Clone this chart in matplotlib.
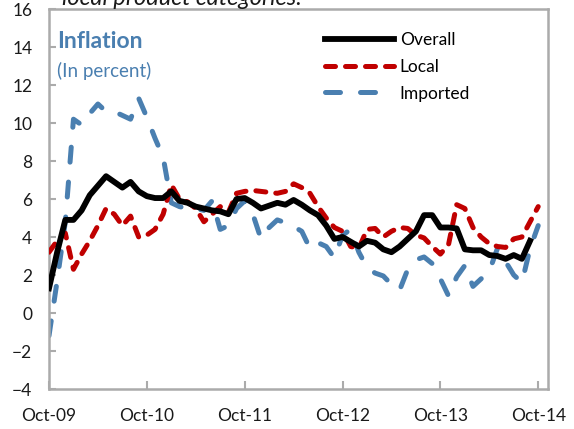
import matplotlib.pyplot as plt
import numpy as np

plt.rcParams['font.family'] = ['Lato', 'DejaVu Sans']

# monthly data, Oct-09 .. Oct-14
tick_labels = ["Oct-09", "Oct-10", "Oct-11", "Oct-12", "Oct-13", "Oct-14"]

overall = [1.3, 3.2, 4.9, 4.9, 5.4, 6.2, 6.7, 7.2, 6.9, 6.6,
           6.9, 6.4, 6.15, 6.05, 6.05, 6.4, 5.9, 5.8, 5.6, 5.5,
           5.4, 5.35, 5.2, 6.0, 6.05, 5.8, 5.5, 5.65, 5.8, 5.7,
           5.95, 5.7, 5.4, 5.15, 4.6, 3.9, 4.0, 3.75, 3.5, 3.8,
           3.7, 3.35, 3.2, 3.5, 3.9, 4.3, 5.15, 5.15, 4.5, 4.5,
           4.45, 3.35, 3.3, 3.3, 3.05, 3.0, 2.85, 3.05, 2.85, 3.8]

local = [3.2, 3.8, 4.2, 2.3, 3.1, 3.8, 4.6, 5.5, 5.2, 4.6,
         5.1, 4.0, 4.1, 4.4, 5.2, 6.75, 6.0, 5.85, 5.5, 4.8,
         5.2, 5.6, 5.3, 6.3, 6.4, 6.45, 6.4, 6.35, 6.3, 6.4,
         6.8, 6.6, 6.3, 5.6, 5.0, 4.5, 4.3, 3.5, 3.4, 4.4,
         4.45, 4.0, 4.3, 4.5, 4.45, 4.1, 3.95, 3.5, 3.1, 3.6,
         5.7, 5.5, 4.5, 4.0, 3.65, 3.5, 3.45, 3.9, 4.0, 4.8,
         5.6]

imported = [-1.2, 1.7, 4.8, 10.2, 9.9, 10.5, 11.0, 10.6, 10.6, 10.4,
            10.2, 11.3, 10.3, 9.2, 8.2, 5.8, 5.6, 5.5, 5.5, 5.4,
            5.9, 4.4, 4.6, 5.5, 5.9, 5.2, 3.9, 4.5, 4.9, 4.75,
            4.55, 4.3, 3.4, 3.7, 3.5, 2.9, 4.1, 4.4, 3.2, 2.4,
            2.1, 1.95, 1.5, 1.2, 2.3, 2.8, 2.95, 2.6, 1.8, 0.9,
            1.9, 2.5, 1.4, 1.8, 2.2, 3.4, 2.7, 2.0, 1.6, 3.4,
            4.6]

blue = "#4A7FB0"
red = "#C00000"
grey = "#ABABAB"

fig = plt.figure(figsize=(5.74, 4.29), dpi=100)
ax = fig.add_axes([49 / 574, 40 / 429, 499 / 574, 380 / 429])

ax.plot(range(len(imported)), imported, color=blue, lw=3.6, dashes=(3, 4),
        dash_capstyle="round", label="Imported", zorder=2)
ax.plot(range(len(local)), local, color=red, lw=3.6, dashes=(2, 2),
        dash_capstyle="round", label="Local", zorder=3)
ax.plot(range(len(overall)), overall, color="black", lw=4.2, label="Overall",
        zorder=4)

ax.set_xlim(0, 61.2)
ax.set_ylim(-4, 16)
ax.set_yticks(range(-4, 17, 2))
ax.set_xticks(range(0, 61, 12))
ax.set_xticklabels(tick_labels)

for s in ax.spines.values():
    s.set_color(grey)
    s.set_linewidth(1.8)
ax.tick_params(axis="y", direction="in", length=5, width=1.5, color=grey,
               labelsize=12.5, labelcolor="#1a1a1a", pad=12)
ax.tick_params(axis="x", direction="in", length=6, width=1.5, color=grey,
               labelsize=12.5, labelcolor="#1a1a1a", pad=14)

# title block inside the plot
fig.text(57 / 574, 1 - 42 / 429, "Inflation", color=blue, fontsize=16.5,
         fontweight="bold", va="center", ha="left")
fig.text(57 / 574, 1 - 71 / 429, "(In percent)", color=blue, fontsize=13.5,
         va="center", ha="left")

# caption cut off at the top of the image
fig.text(62 / 574, 1 - 5 / 429, "local product categories.", fontsize=17,
         style="italic", va="baseline", ha="left", color="#1a1a1a")

handles, labels = ax.get_legend_handles_labels()
order = [2, 1, 0]
ax.legend([handles[i] for i in order], [labels[i] for i in order],
          loc="upper left", bbox_to_anchor=(325 / 574, 1 - 32 / 429),
          bbox_transform=fig.transFigure, frameon=False, fontsize=12.5,
          handlelength=4.0, handletextpad=0.3, labelspacing=0.62,
          borderpad=0, borderaxespad=0)

fig.savefig("out.png", dpi=100)
